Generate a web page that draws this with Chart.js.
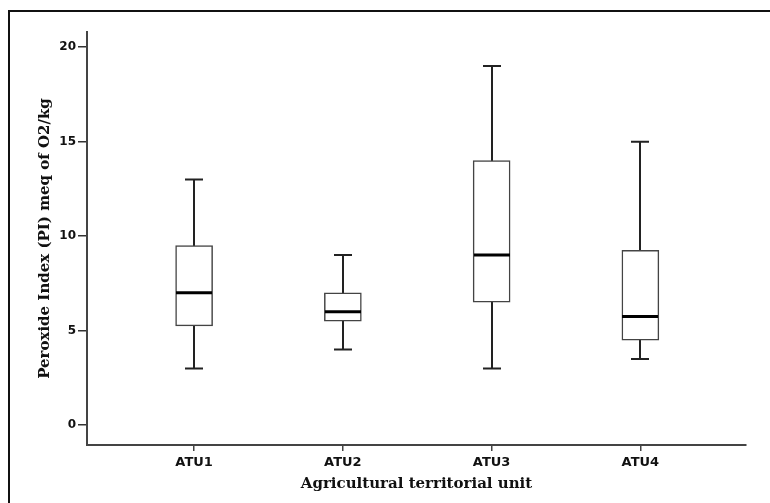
<!DOCTYPE html>
<html>
<head>
<meta charset="utf-8">
<script src="https://cdn.jsdelivr.net/npm/chart.js@4.4.1/dist/chart.umd.min.js"></script>
<style>
  html, body { margin: 0; padding: 0; background: #fff; }
  #wrap { width: 770px; height: 503px; position: relative; }
</style>
</head>
<body>
<div id="wrap"><canvas id="c" width="770" height="503"></canvas></div>
<script>
// ---- data ----
const categories = ['ATU1', 'ATU2', 'ATU3', 'ATU4'];
const whiskerMin = [3, 4, 3, 3.5];
const q1 = [5.25, 5.5, 6.5, 4.5];
const median = [7, 6, 9, 5.75];
const q3 = [9.5, 7, 14, 9.25];
const whiskerMax = [13, 9, 19, 15];
const yTicks = [0, 5, 10, 15, 20];
const xTicks = [1, 2, 3, 4];

const boxData = categories.map((c, i) => ({ x: i + 1, y: [q1[i], q3[i]] }));

const boxPlugin = {
  id: 'boxParts',
  beforeDraw(chart) {
    const ctx = chart.ctx;
    ctx.save();
    ctx.strokeStyle = '#111';
    ctx.lineWidth = 2;
    ctx.beginPath();
    ctx.moveTo(9, 503);
    ctx.lineTo(9, 11);
    ctx.lineTo(770, 11);
    ctx.stroke();
    ctx.restore();
  },
  beforeDatasetsDraw(chart) {
    const ctx = chart.ctx, xs = chart.scales.x, ys = chart.scales.y;
    ctx.save();
    ctx.strokeStyle = '#222';
    ctx.lineWidth = 2;
    const capHalf = 9;
    categories.forEach((c, i) => {
      const x = Math.round(xs.getPixelForValue(i + 1));
      const yMin = ys.getPixelForValue(whiskerMin[i]);
      const yMax = ys.getPixelForValue(whiskerMax[i]);
      ctx.beginPath();
      ctx.moveTo(x, yMin); ctx.lineTo(x, yMax);
      ctx.moveTo(x - capHalf, yMin); ctx.lineTo(x + capHalf, yMin);
      ctx.moveTo(x - capHalf, yMax); ctx.lineTo(x + capHalf, yMax);
      ctx.stroke();
    });
    ctx.restore();
  },
  afterDatasetsDraw(chart) {
    const ctx = chart.ctx, xs = chart.scales.x, ys = chart.scales.y;
    ctx.save();
    ctx.strokeStyle = '#000';
    ctx.lineWidth = 3;
    const half = 18;
    categories.forEach((c, i) => {
      const x = Math.round(xs.getPixelForValue(i + 1));
      const y = ys.getPixelForValue(median[i]);
      ctx.beginPath();
      ctx.moveTo(x - half, y); ctx.lineTo(x + half, y);
      ctx.stroke();
    });
    ctx.restore();
  }
};

new Chart(document.getElementById('c'), {
  type: 'bar',
  data: {
    datasets: [{
      data: boxData,
      backgroundColor: '#ffffff',
      borderColor: '#444',
      borderWidth: 1.5,
      borderSkipped: false,
      barThickness: 37
    }]
  },
  options: {
    responsive: false,
    animation: false,
    events: [],
    layout: { padding: { left: 0, top: 32, right: 24, bottom: 0 } },
    plugins: { legend: { display: false }, tooltip: { enabled: false } },
    scales: {
      x: {
        type: 'linear',
        offset: false,
        min: 0.28,
        max: 4.71,
        afterBuildTicks: s => { s.ticks = xTicks.map(v => ({ value: v })); },
        afterFit: s => { s.height = 58; },
        grid: { offset: false, drawOnChartArea: false, drawTicks: true, tickLength: 6, color: '#444', lineWidth: 1.5 },
        border: { display: true, color: '#444', width: 2 },
        ticks: {
          callback: v => categories[v - 1] || '',
          color: '#111',
          font: { family: 'DejaVu Sans', weight: 'bold', size: 13 },
          padding: 4,
          maxRotation: 0,
          autoSkip: false
        },
        title: {
          display: true,
          text: 'Agricultural territorial unit',
          color: '#111',
          font: { family: 'DejaVu Serif', weight: 'bold', size: 15 },
          padding: { top: 0, bottom: 10 }
        }
      },
      y: {
        type: 'linear',
        min: -1.05,
        max: 20.8,
        afterBuildTicks: s => { s.ticks = yTicks.map(v => ({ value: v })); },
        afterFit: s => { s.width = 87; },
        grid: { drawOnChartArea: false, drawTicks: true, tickLength: 9, color: '#333', lineWidth: 1.5 },
        border: { display: true, color: '#444', width: 2 },
        ticks: {
          color: '#111',
          font: { family: 'DejaVu Sans', weight: 'bold', size: 12 },
          padding: 2
        },
        title: {
          display: true,
          text: 'Peroxide Index (PI) meq of O2/kg',
          color: '#111',
          font: { family: 'DejaVu Serif', weight: 'bold', size: 15 },
          padding: { top: 36, bottom: 0 }
        }
      }
    }
  },
  plugins: [boxPlugin]
});
</script>
</body>
</html>
